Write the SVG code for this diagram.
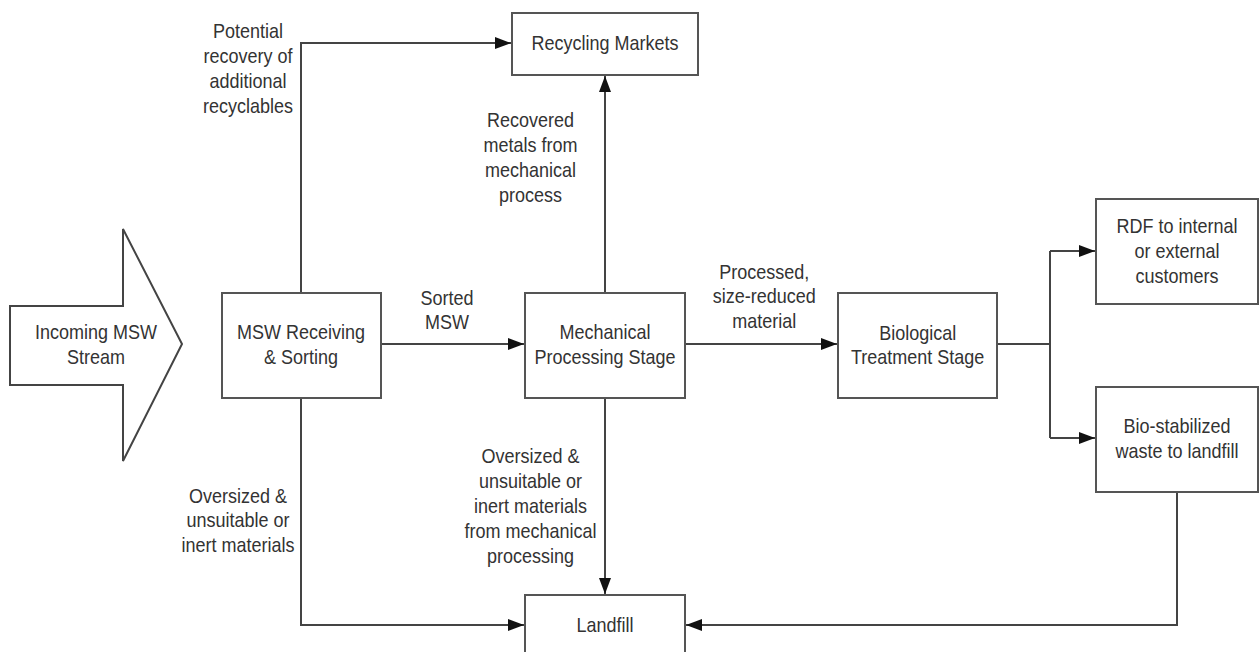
<svg xmlns="http://www.w3.org/2000/svg" width="1260" height="652" viewBox="0 0 1260 652">
<style>
.box{fill:#fff;stroke:#555;stroke-width:2}
.con{fill:none;stroke:#444;stroke-width:2}
.t{font-family:"Liberation Sans",Arial,sans-serif;font-size:20px;fill:#333;text-anchor:middle}
</style>
<defs>
<marker id="ah" viewBox="0 0 16 12" refX="16" refY="6" markerWidth="16" markerHeight="12" markerUnits="userSpaceOnUse" orient="auto">
<path d="M0,0 L16,6 L0,12 z" fill="#111"/>
</marker>
</defs>
<rect width="1260" height="652" fill="#fff"/>
<g id="connectors">
<polyline class="con" points="301,293 301,43 511,43" marker-end="url(#ah)"/>
<polyline class="con" points="301,398 301,625 524,625" marker-end="url(#ah)"/>
<line class="con" x1="381" y1="344" x2="524" y2="344" marker-end="url(#ah)"/>
<line class="con" x1="605" y1="293" x2="605" y2="76" marker-end="url(#ah)"/>
<line class="con" x1="605" y1="398" x2="605" y2="594" marker-end="url(#ah)"/>
<line class="con" x1="685" y1="344" x2="837" y2="344" marker-end="url(#ah)"/>
<polyline class="con" points="997,344 1050,344"/>
<polyline class="con" points="1050,251 1050,438"/>
<line class="con" x1="1050" y1="251" x2="1095" y2="251" marker-end="url(#ah)"/>
<line class="con" x1="1050" y1="438" x2="1095" y2="438" marker-end="url(#ah)"/>
<polyline class="con" points="1177,492 1177,625 686,625" marker-end="url(#ah)"/>
</g>
<g id="incoming">
<polygon points="10,306 123,306 123,229 182,344 123,461 123,385 10,385" fill="#fff" stroke="#444" stroke-width="2"/>
<text class="t" transform="translate(96,338.7) scale(0.9,1)"><tspan x="0">Incoming MSW</tspan><tspan x="0" dy="25">Stream</tspan></text>
</g>
<g id="recycling">
<rect class="box" x="512" y="13" width="186" height="62"/>
<text class="t" transform="translate(605,50.3) scale(0.9,1)">Recycling Markets</text>
</g>
<g id="receiving">
<rect class="box" x="222" y="293" width="159" height="105"/>
<text class="t" transform="translate(301,338.7) scale(0.9,1)"><tspan x="0">MSW Receiving</tspan><tspan x="0" dy="25">&amp; Sorting</tspan></text>
</g>
<g id="mechanical">
<rect class="box" x="525" y="293" width="160" height="105"/>
<text class="t" transform="translate(605,338.7) scale(0.9,1)"><tspan x="0">Mechanical</tspan><tspan x="0" dy="25">Processing Stage</tspan></text>
</g>
<g id="biological">
<rect class="box" x="838" y="293" width="159" height="105"/>
<text class="t" transform="translate(917.7,339.7) scale(0.9,1)"><tspan x="0">Biological</tspan><tspan x="0" dy="24">Treatment Stage</tspan></text>
</g>
<g id="rdf">
<rect class="box" x="1096" y="199" width="162" height="105"/>
<text class="t" transform="translate(1177,233) scale(0.9,1)"><tspan x="0">RDF to internal</tspan><tspan x="0" dy="25">or external</tspan><tspan x="0" dy="25">customers</tspan></text>
</g>
<g id="biostab">
<rect class="box" x="1096" y="387" width="162" height="105"/>
<text class="t" transform="translate(1177,433) scale(0.9,1)"><tspan x="0">Bio-stabilized</tspan><tspan x="0" dy="25">waste to landfill</tspan></text>
</g>
<g id="landfill">
<rect class="box" x="525" y="595" width="160" height="80"/>
<text class="t" transform="translate(605,632) scale(0.9,1)">Landfill</text>
</g>
<g id="labels">
<text class="t" transform="translate(248,37.7) scale(0.9,1)"><tspan x="0">Potential</tspan><tspan x="0" dy="25">recovery of</tspan><tspan x="0" dy="25">additional</tspan><tspan x="0" dy="25">recyclables</tspan></text>
<text class="t" transform="translate(530.6,127) scale(0.9,1)"><tspan x="0">Recovered</tspan><tspan x="0" dy="25">metals from</tspan><tspan x="0" dy="25">mechanical</tspan><tspan x="0" dy="25">process</tspan></text>
<text class="t" transform="translate(447,305.3) scale(0.9,1)"><tspan x="0">Sorted</tspan><tspan x="0" dy="24">MSW</tspan></text>
<text class="t" transform="translate(764.3,278.7) scale(0.9,1)"><tspan x="0">Processed,</tspan><tspan x="0" dy="24.5">size-reduced</tspan><tspan x="0" dy="24.5">material</tspan></text>
<text class="t" transform="translate(238,503) scale(0.9,1)"><tspan x="0">Oversized &amp;</tspan><tspan x="0" dy="24.5">unsuitable or</tspan><tspan x="0" dy="24.5">inert materials</tspan></text>
<text class="t" transform="translate(530.6,462.7) scale(0.9,1)"><tspan x="0">Oversized &amp;</tspan><tspan x="0" dy="25">unsuitable or</tspan><tspan x="0" dy="25">inert materials</tspan><tspan x="0" dy="25">from mechanical</tspan><tspan x="0" dy="25">processing</tspan></text>
</g>
</svg>
